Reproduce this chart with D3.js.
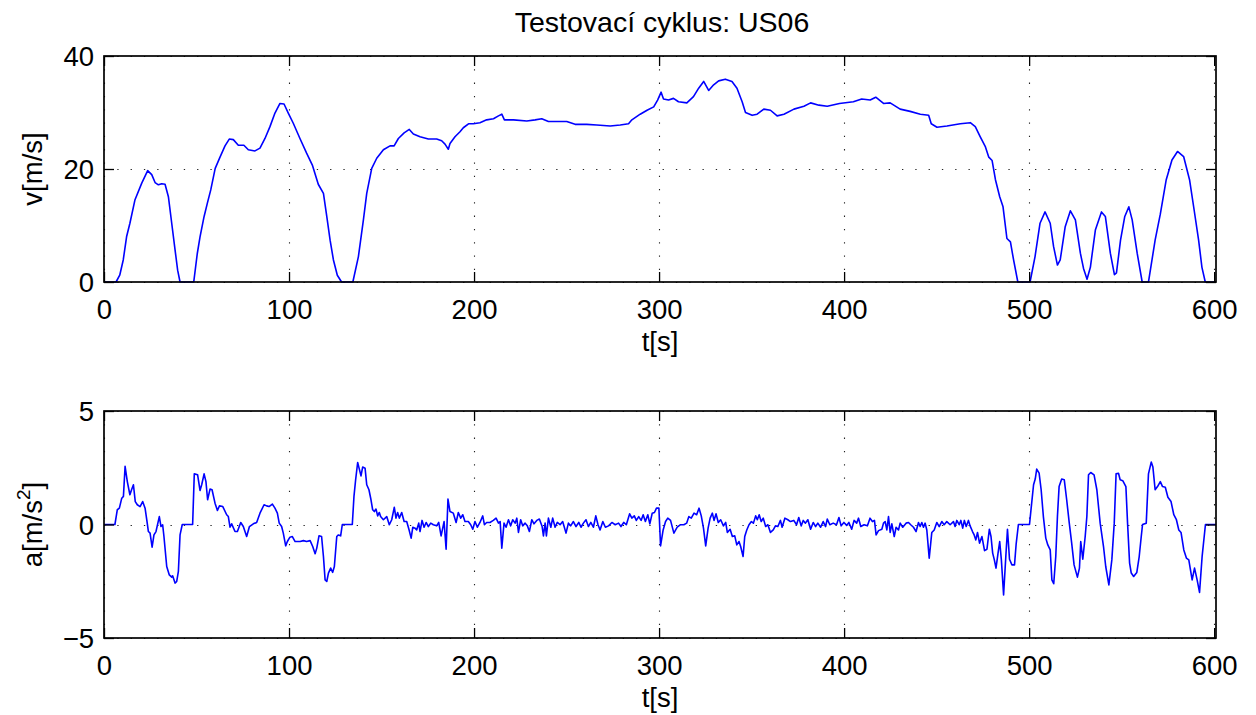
<!DOCTYPE html>
<html>
<head>
<meta charset="utf-8">
<script src="https://cdn.jsdelivr.net/npm/d3@7"></script>
<style>
  body { margin: 0; background: #fff; }
  svg text { font-family: "Liberation Sans", Arial, Helvetica, sans-serif; fill: #000; }
</style>
</head>
<body>
<svg id="chart" width="1256" height="715"></svg>
<script>
// US06 cycle: [t (s), value]
const speed = [
  [0,0],[6.5,0],[8.5,1.2],[10.4,3.9],[12.2,8.0],[14.0,10.4],[16.7,14.5],[20.4,17.5],[23.6,19.7],[25.8,19.0],
  [27.6,17.6],[29.4,17.2],[31.2,17.4],[33.0,17.3],[34.8,15.1],[36.6,10.4],[38.4,5.7],[39.8,2.1],[41.1,0],[48.5,0],
  [50.4,5.0],[51.9,8.0],[54.1,11.6],[55.9,14.0],[57.7,16.3],[60.1,20.1],[62.7,22.1],[65.4,24.1],[67.7,25.3],[69.9,25.2],
  [72.6,24.2],[75.6,24.2],[78.0,23.4],[81.6,23.2],[84.3,23.7],[87.0,25.4],[89.7,27.5],[92.4,29.9],[95.1,31.6],[97.3,31.5],
  [99.6,29.9],[102.3,28.1],[105.9,25.4],[109.5,22.8],[112.6,20.7],[115.8,17.3],[118.6,15.7],[120.4,11.6],[122.2,7.4],[124.0,3.9],
  [126.1,1.2],[128.4,0],[134.5,0],[137.5,4.5],[140.2,11.0],[142.0,15.7],[144.7,20.1],[147.4,21.9],[151.0,23.4],[154.6,24.1],
  [156.8,24.1],[159.1,25.4],[162.2,26.4],[165.0,27.0],[167.2,26.2],[170.8,25.7],[175.3,25.3],[179.8,25.3],[182.5,25.0],[184.3,24.4],
  [186.1,23.5],[187.0,24.5],[189.7,25.7],[192.4,26.6],[194.2,27.3],[197.0,28.0],[199.6,28.0],[203.2,28.2],[206.8,28.7],[210.5,28.9],
  [213.2,29.4],[215.0,29.7],[216.4,28.7],[221.3,28.7],[228.5,28.5],[233.0,28.7],[236.6,28.9],[240.2,28.4],[246.5,28.4],[250.1,28.4],
  [254.6,27.9],[260.9,27.9],[266.3,27.8],[273.6,27.6],[279.0,27.8],[283.5,28.0],[285.3,28.7],[289.8,29.7],[293.5,30.4],[297.1,31.0],
  [299.2,32.2],[301.1,33.6],[302.4,32.4],[305.1,32.2],[307.8,32.5],[310.5,31.9],[315.0,31.7],[318.6,32.8],[321.4,34.3],[324.1,35.5],
  [326.8,33.9],[329.5,34.9],[332.2,35.6],[335.8,35.9],[339.4,35.5],[342.1,34.3],[344.9,31.9],[346.7,30.0],[350.3,29.5],[353.0,29.7],
  [356.6,30.6],[360.2,30.4],[363.8,29.4],[367.5,29.7],[372.9,30.6],[378.3,31.1],[381.9,31.7],[386.4,31.3],[390.9,31.1],[397.5,31.6],
  [405.0,31.9],[409.5,32.4],[414.1,32.2],[417.1,32.7],[421.3,31.6],[424.9,31.7],[430.3,30.6],[435.7,30.2],[441.2,29.7],[445.7,29.5],
  [447.1,28.0],[450.2,27.4],[455.6,27.6],[462.8,28.0],[468.2,28.2],[470.9,27.5],[473.6,25.7],[476.4,23.9],[478.2,22.1],[480.0,21.5],
  [481.8,18.1],[484.1,15.1],[485.9,13.3],[488.0,7.7],[489.9,7.1],[491.6,3.9],[493.9,0],[500.5,0],[503.2,4.5],[505.9,10.4],
  [508.6,12.4],[511.4,10.4],[513.2,6.3],[515.3,3.0],[516.8,3.9],[519.5,9.8],[522.3,12.6],[525.0,11.0],[527.7,5.1],[529.4,2.4],
  [531.3,0.5],[533.1,2.6],[535.8,9.2],[539.1,12.4],[541.2,11.6],[543.9,5.1],[546.1,1.3],[547.2,1.6],[549.4,7.4],[551.7,11.6],
  [553.9,13.3],[555.7,11.0],[558.4,5.1],[561.1,0],[564.5,0],[568.1,7.4],[570.9,12.0],[574.1,18.1],[577.2,21.6],[580.2,23.1],
  [583.5,22.2],[586.7,18.1],[589.2,12.7],[591.6,7.4],[593.4,2.6],[595.2,0],[601,0]
];

const accel = [
  [0,0],[5.9,0],[7.2,0.65],[8.3,0.72],[9.6,1.16],[10.5,1.24],[11.4,2.56],[12.6,1.89],[14.0,1.31],[14.9,1.53],
  [15.9,1.75],[16.9,1.01],[18.0,0.87],[19.5,0.79],[20.9,1.01],[22.2,0.72],[23.1,0.21],[24.0,-0.31],[24.9,-0.38],[26.0,-1.0],
  [27.0,-0.46],[28.1,-0.31],[29.9,0.35],[30.8,-0.09],[31.7,-0.01],[32.4,-0.53],[33.9,-1.85],[35.3,-2.22],[36.6,-2.32],[37.1,-2.26],
  [38.4,-2.58],[39.3,-2.51],[40.2,-2.07],[41.1,-0.46],[42.3,0],[47.9,0],[48.8,2.23],[50.6,2.19],[51.9,1.5],[52.8,1.75],
  [54.1,2.23],[55.1,1.89],[56.0,1.09],[57.3,1.56],[58.4,1.53],[60.0,0.94],[61.3,0.62],[62.4,0.82],[64.2,0.79],[66.3,0.43],
  [67.2,0.35],[68.1,-0.12],[69.0,0.03],[70.8,-0.31],[72.1,-0.31],[73.9,0.09],[75.3,-0.09],[77.1,-0.53],[78.6,-0.09],[80.7,0.03],
  [82.5,0.09],[84.3,0.50],[86.5,0.87],[87.9,0.82],[89.2,0.79],[91.0,0.9],[92.4,0.72],[93.7,0.50],[94.7,0.06],[96.0,-0.09],
  [96.9,-0.38],[98.2,-0.94],[99.1,-0.75],[100.5,-0.56],[101.8,-0.53],[103.3,-0.75],[106.0,-0.75],[107.8,-0.71],[109.5,-0.75],[111.4,-0.71],
  [112.8,-0.97],[114.1,-1.29],[115.0,-1.04],[116.2,-0.50],[117.6,-0.53],[118.6,-1.41],[119.5,-2.44],[120.4,-2.51],[121.3,-2.14],[122.5,-1.92],
  [123.6,-2.11],[124.5,-1.85],[125.8,-0.53],[126.7,-0.46],[127.9,-0.50],[128.8,0],[134.2,0],[135.1,1.24],[136.0,1.97],[137.1,2.73],
  [138.0,2.44],[138.9,2.14],[139.8,2.53],[141.1,2.48],[142.0,1.75],[143.2,1.53],[144.3,1.09],[145.2,0.65],[146.1,0.57],[147.0,0.68],
  [147.9,0.38],[148.8,0.53],[149.5,0.35],[151.0,0.21],[152.8,0.35],[154.2,-0.01],[155.5,0.21],[156.9,0.76],[157.8,0.28],[158.7,0.53],
  [159.6,0.28],[160.9,0.53],[162.2,0.13],[163.6,0.13],[164.9,-0.24],[166.0,-0.60],[166.9,-0.12],[168.1,-0.16],[169.0,-0.24],[170.1,0.06],
  [170.8,-0.31],[171.9,0.18],[173.0,-0.12],[174.1,0.09],[175.3,-0.09],[176.6,0.06],[178.0,-0.01],[179.8,-0.06],[180.9,0.09],[182.2,-0.50],
  [183.8,0.13],[184.9,-1.09],[185.9,1.12],[187.0,0.57],[188.8,0.50],[190.3,0.09],[191.5,0.53],[192.8,0.28],[193.9,0.43],[195.1,0.13],
  [196.9,0.13],[198.2,-0.01],[199.3,-0.21],[200.5,0.13],[201.8,-0.12],[203.2,0.09],[204.7,0.38],[205.6,-0.01],[206.8,0.09],[208.6,0.09],
  [210.4,0.18],[211.9,0.28],[213.2,0.06],[214.1,0.13],[215.0,-1.04],[216.2,0.06],[217.3,-0.12],[218.6,0.21],[219.8,-0.06],[220.9,0.21],
  [222.2,0.06],[223.1,0.28],[224.0,-0.35],[225.2,0.21],[226.3,-0.06],[227.6,0.06],[228.8,-0.06],[229.9,-0.31],[231.2,0.21],[232.4,0.03],
  [233.9,0.18],[235.3,0.24],[236.8,-0.09],[237.5,-0.50],[238.4,0.06],[239.1,-0.50],[240.2,0.28],[241.5,-0.12],[242.5,0.28],[243.8,-0.12],
  [245.0,0.09],[246.5,-0.01],[247.9,0.13],[249.7,-0.38],[251.0,0.06],[252.2,-0.06],[253.7,0.13],[255.1,-0.09],[256.6,0.09],[257.8,-0.12],
  [259.1,0.06],[260.5,0.21],[261.8,-0.09],[263.1,0.09],[264.5,-0.12],[265.8,0.38],[267.0,-0.01],[268.1,-0.24],[269.6,0.13],[271.0,-0.12],
  [272.7,-0.06],[274.5,0.09],[276.3,-0.01],[278.1,0.06],[279.4,-0.09],[280.9,0.09],[282.3,-0.01],[284.1,0.47],[285.3,0.28],[286.6,0.38],
  [287.7,0.18],[289.0,0.35],[290.3,0.18],[291.4,0.43],[292.6,0.13],[293.9,0.43],[295.0,0.03],[296.3,0.50],[297.5,0.53],[298.6,0.72],
  [299.9,0.72],[300.8,-0.94],[302.2,-0.24],[303.5,0.13],[304.7,0.28],[306.2,0.18],[308.0,-0.38],[309.8,-0.12],[311.6,-0.01],[313.4,-0.01],
  [314.9,0.06],[316.1,0.35],[317.4,0.28],[318.9,0.50],[320.3,0.43],[321.6,0.72],[322.8,0.38],[324.0,-0.16],[325.2,-0.94],[326.5,-0.16],
  [327.6,0.28],[328.8,0.50],[329.7,0.18],[330.8,0.47],[332.0,0.09],[333.3,0.21],[334.8,-0.06],[336.0,0.09],[336.9,-0.35],[338.4,-0.21],
  [339.6,-0.53],[340.9,-0.50],[342.0,-0.90],[343.2,-0.75],[344.1,-0.97],[345.4,-1.41],[346.3,-0.53],[347.4,-0.24],[348.6,-0.01],[349.9,0.13],
  [351.0,0.06],[352.2,0.38],[353.1,0.21],[354.1,0.43],[355.2,0.13],[356.3,0.28],[357.6,-0.09],[358.8,-0.01],[360.2,-0.35],[361.7,-0.24],
  [362.9,-0.06],[364.2,-0.09],[365.6,0.18],[366.5,-0.12],[368.0,0.28],[369.6,0.21],[371.0,0.13],[372.8,0.18],[374.3,-0.01],[375.5,0.31],
  [376.8,-0.06],[377.9,0.18],[379.1,0.06],[380.4,0.21],[381.9,-0.21],[383.3,0.09],[384.6,-0.09],[385.8,0.06],[387.3,-0.12],[388.7,0.13],
  [390.0,-0.09],[390.9,0.24],[392.3,-0.01],[394.1,0.06],[395.9,-0.01],[397.2,0.31],[398.4,-0.06],[399.9,0.09],[401.4,-0.04],[402.6,0.09],
  [404.1,-0.21],[405.4,0.18],[406.8,0.06],[407.8,0.28],[409.0,-0.09],[410.8,-0.01],[412.6,-0.06],[414.0,0.28],[415.3,0.13],[416.4,0.18],
  [417.3,-0.46],[418.6,-0.27],[420.4,-0.21],[421.3,0.06],[422.2,0.13],[423.1,-0.24],[424.0,0.35],[424.9,-0.35],[425.8,0.03],[427.1,-0.53],
  [428.1,-0.12],[429.4,-0.24],[430.3,0.06],[431.7,-0.12],[433.5,0.06],[434.8,0.09],[436.0,-0.01],[437.5,-0.12],[438.9,-0.31],[440.2,0.09],
  [441.1,-0.09],[442.0,0.09],[442.9,-0.12],[443.8,0.06],[444.7,-0.24],[446.0,-1.48],[447.4,-0.35],[448.7,-0.24],[450.1,0.09],[451.4,-0.09],
  [452.8,0.13],[454.1,-0.01],[455.5,0.13],[457.3,-0.01],[459.1,0.13],[460.0,-0.09],[460.9,0.18],[462.2,-0.01],[463.1,0.18],[464.1,-0.16],
  [465.0,0.18],[466.0,-0.09],[467.2,0.18],[468.1,-0.06],[469.4,-0.31],[470.3,-0.46],[471.2,-0.68],[472.1,-0.35],[473.2,-0.82],[474.5,-0.53],
  [475.9,-1.15],[477.2,-1.09],[478.5,-0.21],[479.4,-0.53],[480.3,-1.26],[481.2,-1.56],[482.1,-1.92],[483.2,-1.26],[484.1,-0.75],[485.0,-1.56],
  [486.2,-3.10],[487.4,-1.41],[488.3,-0.21],[489.4,-1.53],[490.7,-1.78],[492.1,-1.78],[493.0,-0.85],[494.2,0],[500.2,0],[501.1,0.72],
  [502.4,1.75],[503.3,2.00],[504.1,2.44],[505.4,2.26],[506.5,1.53],[507.7,0.35],[509.0,-0.60],[510.1,-0.90],[511.4,-1.12],[512.3,-2.44],
  [513.3,-2.61],[514.4,-1.41],[515.3,0.35],[516.2,1.67],[517.6,2.00],[519.0,1.97],[520.3,1.09],[521.7,0.06],[523.0,-0.82],[524.3,-1.78],
  [526.1,-2.32],[527.2,-1.92],[527.9,-0.75],[529.0,-1.53],[530.3,-0.53],[531.2,0.35],[532.1,2.19],[533.3,2.29],[535.1,2.19],[536.6,1.53],
  [538.4,0.06],[540.2,-0.97],[541.4,-1.85],[543.1,-2.66],[544.7,-1.56],[546.0,0.06],[547.0,2.23],[548.3,2.26],[549.2,1.97],[550.6,1.93],
  [552.3,1.67],[553.2,0.06],[554.3,-1.70],[555.2,-2.14],[556.5,-2.29],[558.2,-2.11],[559.5,-1.41],[560.6,-0.53],[561.3,0],[563.3,0.06],
  [564.5,2.23],[566.0,2.75],[566.9,2.53],[568.1,1.53],[569.4,1.67],[570.9,1.89],[572.1,1.67],[573.6,1.64],[575.0,1.20],[576.7,1.01],
  [578.2,0.43],[579.6,0.21],[580.9,-0.24],[582.1,-0.35],[583.6,-1.12],[585.0,-1.48],[586.3,-1.56],[588.1,-2.44],[589.4,-1.92],[590.8,-2.44],
  [592.1,-2.99],[593.5,-1.41],[595.3,0],[601,0]
];

const timeTicks = [0, 100, 200, 300, 400, 500, 600];
const speedTicks = [0, 20, 40];
const accelTicks = [-5, 0, 5];

const titleText = "Testovací cyklus: US06";

const svg = d3.select("#chart");
const left = 104, right = 1216;
const fontSize = 27.5;

const x = d3.scaleLinear().domain([0, 601]).range([left, right]);

function drawPanel(top, bottom, yDomain, yTicks, data, drawYLabel) {
  const y = d3.scaleLinear().domain(yDomain).range([bottom, top]);
  const g = svg.append("g");
  const h = bottom - top, w = right - left;

  // dotted grid
  const grid = g.append("g").attr("stroke", "#222").attr("stroke-width", 1.1)
      .attr("stroke-dasharray", "1.3,12");
  grid.selectAll("line.gx").data(timeTicks).join("line")
    .attr("x1", d => Math.round(x(d)) + 0.5).attr("x2", d => Math.round(x(d)) + 0.5)
    .attr("y1", top).attr("y2", bottom);
  grid.selectAll("line.gy").data(yTicks).join("line")
    .attr("x1", left).attr("x2", right)
    .attr("y1", d => Math.round(y(d)) + 0.5).attr("y2", d => Math.round(y(d)) + 0.5);

  // the trace
  const line = d3.line().x(d => x(d[0])).y(d => y(d[1]));
  g.append("path").datum(data)
    .attr("fill", "none").attr("stroke", "#0000ff").attr("stroke-width", 1.6)
    .attr("stroke-linejoin", "round").attr("d", line);

  // ticks on all four sides, pointing in
  const axB = g.append("g").attr("transform", `translate(0,${bottom})`)
    .call(d3.axisBottom(x).tickValues(timeTicks).tickSize(-10).tickFormat(d3.format("d")));
  g.append("g").attr("transform", `translate(0,${top})`)
    .call(d3.axisTop(x).tickValues(timeTicks).tickSize(-10).tickFormat(""));
  const axL = g.append("g").attr("transform", `translate(${left},0)`)
    .call(d3.axisLeft(y).tickValues(yTicks).tickSize(-10)
      .tickFormat(d => d < 0 ? "\u2212" + Math.abs(d) : d));
  g.append("g").attr("transform", `translate(${right},0)`)
    .call(d3.axisRight(y).tickValues(yTicks).tickSize(-10).tickFormat(""));

  g.selectAll(".domain").remove();
  g.selectAll(".tick line").attr("stroke", "#000").attr("stroke-width", 1.3);
  g.selectAll(".tick text").attr("font-size", fontSize)
    .attr("font-family", "'Liberation Sans', Arial, sans-serif").attr("fill", "#000");
  axB.selectAll(".tick text").attr("dy", null).attr("y", 37);
  axL.selectAll(".tick text").attr("x", -10).attr("dy", "0.36em");

  // box
  g.append("rect").attr("x", left).attr("y", top).attr("width", w).attr("height", h)
    .attr("fill", "none").attr("stroke", "#000").attr("stroke-width", 1.7);

  // x label
  g.append("text").attr("x", (left + right) / 2).attr("y", bottom + 69)
    .attr("text-anchor", "middle").attr("font-size", fontSize).text("t[s]");

  drawYLabel(g, (top + bottom) / 2);
}

// title
svg.append("text").attr("x", 662).attr("y", 32).attr("text-anchor", "middle")
  .attr("font-size", 28.5).text(titleText);

drawPanel(56, 282, [0, 40], speedTicks, speed, (g, cy) => {
  g.append("text").attr("transform", `translate(42,${cy}) rotate(-90)`)
    .attr("text-anchor", "middle").attr("font-size", fontSize).text("v[m/s]");
});

drawPanel(411, 638, [-5, 5], accelTicks, accel, (g, cy) => {
  const t = g.append("text").attr("transform", `translate(42,${cy}) rotate(-90)`)
    .attr("text-anchor", "middle").attr("font-size", fontSize);
  t.append("tspan").text("a[m/s");
  t.append("tspan").attr("font-size", 19).attr("dy", -12).text("2");
  t.append("tspan").attr("dy", 12).text("]");
});
</script>
</body>
</html>
